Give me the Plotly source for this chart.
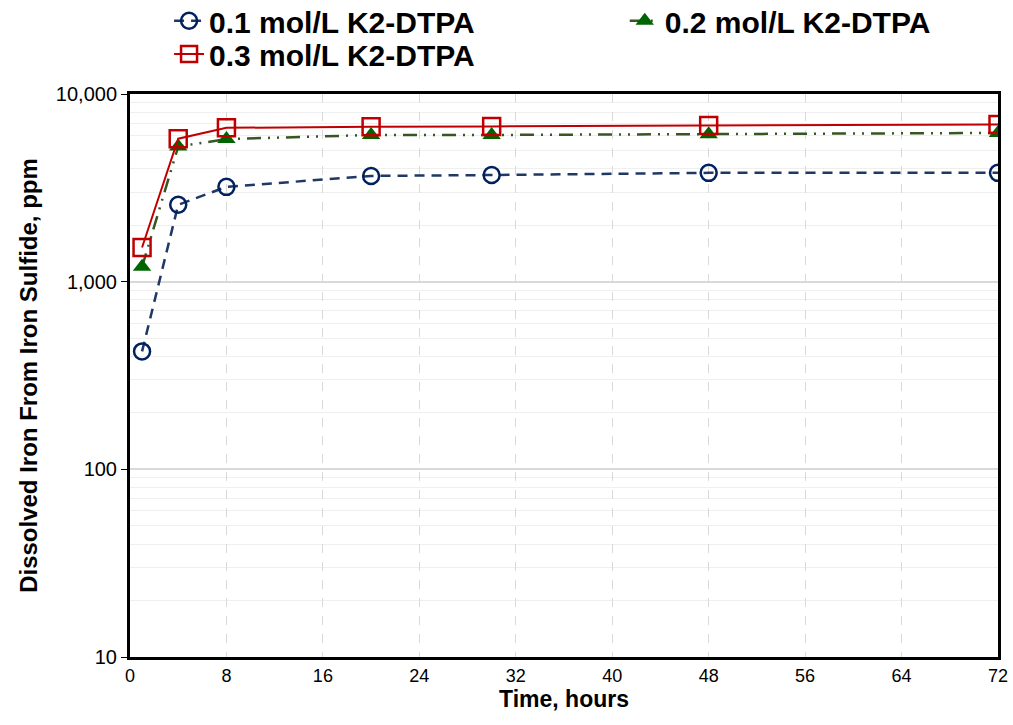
import plotly.graph_objects as go

time_h = [1, 4, 8, 20, 30, 48, 72]
iron_01 = [425, 2570, 3200, 3660, 3700, 3800, 3800]
iron_02 = [1200, 5250, 5750, 6050, 6050, 6100, 6200]
iron_03 = [1520, 5780, 6600, 6700, 6720, 6800, 6880]

y_tickvals = [10, 100, 1000, 10000]
y_ticktext = ["10", "100", "1,000", "10,000"]
x_tickvals = [0, 8, 16, 24, 32, 40, 48, 56, 64, 72]

BOLD = "Liberation Sans, Arial"

fig = go.Figure()
fig.add_trace(go.Scatter(
    x=time_h, y=iron_01, name="0.1 mol/L K2-DTPA", mode="lines+markers", legend="legend",
    line=dict(color="#1F3864", width=2.5, dash="10px,7px"),
    marker=dict(symbol="circle-open", size=16, color="#002060", line=dict(width=2.5)),
))
fig.add_trace(go.Scatter(
    x=time_h, y=iron_02, name="0.2 mol/L K2-DTPA", mode="lines+markers", legend="legend2",
    line=dict(color="#375623", width=2.5, dash="14px,7px,2px,7px,2px,7px"),
    marker=dict(symbol="triangle-up", size=16, color="#006400"),
))
fig.add_trace(go.Scatter(
    x=time_h, y=iron_03, name="0.3 mol/L K2-DTPA", mode="lines+markers", legend="legend3",
    line=dict(color="#C00000", width=2),
    marker=dict(symbol="square-open", size=17, color="#C00000", line=dict(width=2.5)),
))

legend_style = dict(
    xanchor="left", yanchor="middle", itemwidth=30,
    font=dict(size=30, family=BOLD, weight="bold"), bgcolor="rgba(0,0,0,0)",
)

fig.update_layout(
    width=1013, height=725,
    margin=dict(l=130, r=15, t=94, b=68, autoexpand=False),
    paper_bgcolor="white", plot_bgcolor="white",
    font=dict(family="Liberation Sans, Arial", color="black"),
    legend=dict(x=0.045, y=1.13, **legend_style),
    legend2=dict(x=0.570, y=1.13, **legend_style),
    legend3=dict(x=0.045, y=1.071, **legend_style),
    showlegend=True,
)
fig.update_xaxes(
    range=[0, 72], tickvals=x_tickvals, showline=True, linecolor="black", linewidth=3,
    mirror=True, showgrid=True, gridcolor="#D9D9D9", griddash="dash", gridwidth=1,
    zeroline=False, ticks="", tickfont=dict(size=18),
    title=dict(text="Time, hours", font=dict(size=23, family=BOLD, weight="bold"), standoff=6),
)
fig.update_yaxes(
    type="log", range=[1, 4], tickvals=y_tickvals, ticktext=y_ticktext,
    showline=True, linecolor="black", linewidth=3, mirror=True,
    showgrid=True, gridcolor="#D9D9D9", gridwidth=1.5,
    minor=dict(showgrid=True, gridcolor="#EFEFEF", gridwidth=1, dtick="D1"),
    ticks="outside", ticklen=6, tickcolor="black", tickfont=dict(size=20),
    title=dict(text="Dissolved Iron From Iron Sulfide, ppm", font=dict(size=24, family=BOLD, weight="bold"), standoff=12),
)

fig.write_html("out.html")
